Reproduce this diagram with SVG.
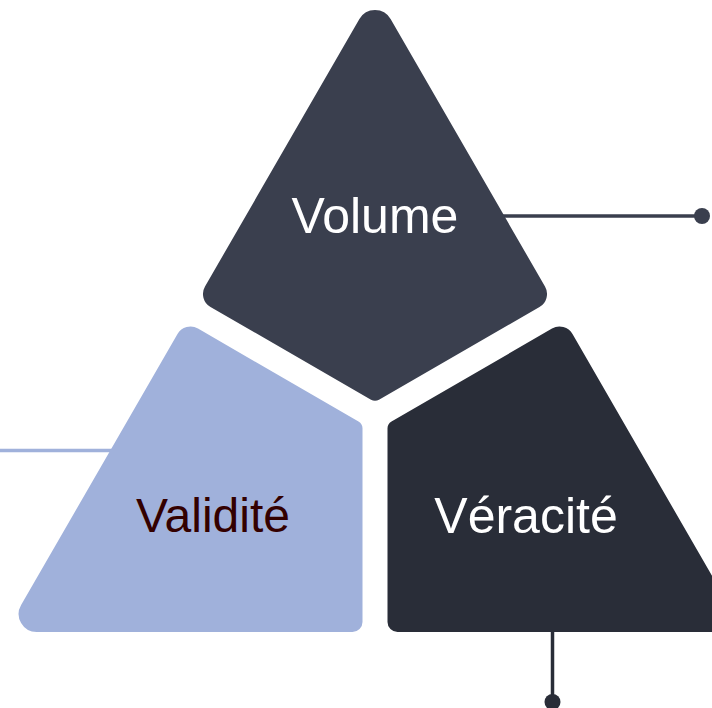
<svg xmlns="http://www.w3.org/2000/svg" width="712" height="708" viewBox="0 0 712 708">
  <style>
    .label { font-family: "Liberation Sans", Arial, sans-serif; font-size: 50px; text-anchor: middle; }
    .light { fill: #ffffff; }
    .dark { fill: #330000; font-size: 48px; }
  </style>
  <rect width="712" height="708" fill="#ffffff"/>

  <!-- connectors -->
  <g id="connectors" stroke-width="3.5" fill="none">
    <line x1="500" y1="216" x2="702" y2="216" stroke="#3a3f4e"/>
    <circle cx="702" cy="216" r="8" fill="#3a3f4e" stroke="none"/>
    <line x1="0" y1="450.5" x2="115" y2="450.5" stroke="#a0b1db"/>
    <line x1="552.5" y1="630" x2="552.5" y2="702" stroke="#292d38"/>
    <circle cx="552.5" cy="702" r="8" fill="#292d38" stroke="none"/>
  </g>

  <!-- top segment -->
  <g id="volume">
    <path d="M 359.4 19 A 18 18 0 0 1 390.6 19 L 545 286.5 A 15 15 0 0 1 539.5 307 L 379 399.7 A 8 8 0 0 1 371 399.7 L 210.5 307 A 15 15 0 0 1 205 286.5 Z" fill="#3a3f4e"/>
    <text class="label light" x="375" y="233">Volume</text>
  </g>

  <!-- lower-left segment -->
  <g id="validite">
    <path d="M 177.5 334.1 A 15 15 0 0 1 198 328.6 L 358.5 421.4 A 8 8 0 0 1 362.5 428.3 L 362.5 622 A 10 10 0 0 1 352.5 632 L 36.7 632 A 18 18 0 0 1 21.1 605 Z" fill="#a0b1db"/>
    <text class="label dark" x="213" y="532">Validité</text>
  </g>

  <!-- lower-right segment -->
  <g id="veracite">
    <path d="M 572.5 334.1 A 15 15 0 0 0 552 328.6 L 391.5 421.4 A 8 8 0 0 0 387.5 428.3 L 387.5 622 A 10 10 0 0 0 397.5 632 L 713.3 632 A 18 18 0 0 0 728.9 605 Z" fill="#292d38"/>
    <text class="label light" x="526" y="533">Véracité</text>
  </g>
</svg>
